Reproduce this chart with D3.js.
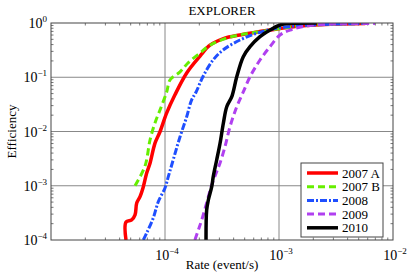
<!DOCTYPE html>
<html>
<head>
<meta charset="utf-8">
<script src="https://cdn.jsdelivr.net/npm/d3@7"></script>
<style>
  body { margin: 0; background: #fff; }
  text { font-family: "Liberation Serif", "DejaVu Serif", serif; fill: #000; }
</style>
</head>
<body>
<div id="chart"></div>
<script>
// series names
const seriesNames = ['2007 A', '2007 B', '2008', '2009', '2010']

// rate (event/s), efficiency pairs per series
const red2007A = [[4.55e-5, 1e-4], [4.55e-5, 2.15e-4], [5.1e-5, 2.34e-4], [5.46e-5, 2.9e-4], [5.65e-5, 4.8e-4],
  [6.04e-5, 6.3e-4], [6.41e-5, 9.1e-4], [6.91e-5, 1.72e-3], [7.39e-5, 2.6e-3], [8.17e-5, 6.1e-3],
  [9.04e-5, 9.9e-3], [1.035e-4, 0.022], [1.22e-4, 0.047], [1.55e-4, 0.12], [2.03e-4, 0.246],
  [2.48e-4, 0.39], [3.3e-4, 0.52], [4.55e-4, 0.6], [8.34e-4, 0.74], [1.53e-3, 0.88], [3.43e-3, 0.96], [5.7e-3, 0.98]]
const green2007B = [[5.46e-5, 1e-3], [6.68e-5, 2.31e-3], [7.39e-5, 6.97e-3], [8.17e-5, 0.0144], [9.04e-5, 0.0249],
  [1.035e-4, 0.0535], [1.106e-4, 0.089], [1.355e-4, 0.126], [1.59e-4, 0.183], [2.03e-4, 0.28],
  [2.48e-4, 0.39], [3.72e-4, 0.55], [8.34e-4, 0.74], [1.53e-3, 0.88], [3.5e-3, 0.96], [6.5e-3, 0.98]]
const blue2008 = [[6.45e-5, 1e-4], [6.91e-5, 1.35e-4], [7.89e-5, 2.55e-4], [8.73e-5, 5.08e-4], [1e-4, 9.1e-4],
  [1.069e-4, 1.47e-3], [1.145e-4, 2.41e-3], [1.355e-4, 8.0e-3], [1.55e-4, 0.0187], [1.71e-4, 0.038],
  [1.87e-4, 0.053], [2.15e-4, 0.102], [2.64e-4, 0.208], [3.23e-4, 0.318], [4.55e-4, 0.486],
  [6.37e-4, 0.646], [9.55e-4, 0.8], [1.87e-3, 0.92], [6.2e-3, 0.98]]
const purple2009 = [[1.83e-4, 1e-4], [1.96e-4, 1.53e-4], [2.1e-4, 2.34e-4], [2.4e-4, 6.28e-4], [2.57e-4, 1.03e-3],
  [2.84e-4, 1.82e-3], [3.04e-4, 2.63e-3], [3.36e-4, 5.25e-3], [3.72e-4, 0.0123], [4.26e-4, 0.0286],
  [4.86e-4, 0.0535], [5.57e-4, 0.102], [6.81e-4, 0.208], [8.34e-4, 0.366], [1.02e-3, 0.6],
  [1.25e-3, 0.74], [1.87e-3, 0.9], [6.95e-3, 0.98]]
const black2010 = [[2.29e-4, 1e-4], [2.32e-4, 3.57e-4], [2.4e-4, 5.46e-4], [2.57e-4, 9.6e-4], [2.65e-4, 1.47e-3],
  [2.84e-4, 2.98e-3], [3.04e-4, 6.06e-3], [3.25e-4, 0.0142], [3.48e-4, 0.0286], [3.87e-4, 0.045],
  [4.26e-4, 0.102], [4.86e-4, 0.239], [5.57e-4, 0.366], [6.81e-4, 0.56], [8.34e-4, 0.74],
  [1.02e-3, 0.92], [1.25e-3, 0.98], [2.15e-3, 1.0]]

const xTicks = [1e-5, 1e-4, 1e-3, 1e-2]
const xTickLabels = ['', '10^-4', '10^-3', '10^-2']
const yTicks = [1e-4, 1e-3, 1e-2, 1e-1, 1e0]

const series = [
  { name: seriesNames[0], data: red2007A, color: '#ff0000', dash: null, w: 3.5 },
  { name: seriesNames[1], data: green2007B, color: '#66ee00', dash: '7,4', w: 3 },
  { name: seriesNames[2], data: blue2008, color: '#1f4fff', dash: '7,2,2,2', w: 3 },
  { name: seriesNames[3], data: purple2009, color: '#b040f0', dash: '7,4', w: 3 },
  { name: seriesNames[4], data: black2010, color: '#000000', dash: null, w: 3.5 }
]

const margin = { top: 23, right: 16, bottom: 33, left: 51 }
const width = 409 - margin.left - margin.right
const height = 273 - margin.top - margin.bottom

const svg = d3.select('#chart')
  .append('svg')
  .attr('width', 409)
  .attr('height', 273)
const g = svg.append('g')
  .attr('transform', 'translate(' + margin.left + ',' + margin.top + ')')

const x = d3.scaleLog().domain([1e-5, 1e-2]).range([0, width])
const y = d3.scaleLog().domain([1e-4, 1]).range([height, 0])

// grid at decades
g.selectAll('.gx').data(xTicks.slice(1, -1)).enter().append('line')
  .attr('x1', d => x(d)).attr('x2', d => x(d)).attr('y1', 0).attr('y2', height)
  .attr('stroke', '#888').attr('stroke-width', 1)
g.selectAll('.gy').data(yTicks.slice(1, -1)).enter().append('line')
  .attr('y1', d => y(d)).attr('y2', d => y(d)).attr('x1', 0).attr('x2', width)
  .attr('stroke', '#888').attr('stroke-width', 1)

// minor ticks, pointing inward on all four sides
function minorVals (scale) {
  const out = []
  const [a, b] = scale.domain()
  for (let e = Math.log10(a); e < Math.log10(b); e++) {
    for (let m = 2; m <= 9; m++) out.push(m * Math.pow(10, e))
  }
  return out
}
const tickG = g.append('g').attr('stroke', '#555').attr('stroke-width', 0.8)
minorVals(x).forEach(v => {
  tickG.append('line').attr('x1', x(v)).attr('x2', x(v)).attr('y1', height).attr('y2', height - 2.5)
  tickG.append('line').attr('x1', x(v)).attr('x2', x(v)).attr('y1', 0).attr('y2', 2.5)
})
minorVals(y).forEach(v => {
  tickG.append('line').attr('y1', y(v)).attr('y2', y(v)).attr('x1', 0).attr('x2', 2.5)
  tickG.append('line').attr('y1', y(v)).attr('y2', y(v)).attr('x1', width).attr('x2', width - 2.5)
})

// curves
g.append('clipPath').attr('id', 'clip').append('rect')
  .attr('width', width).attr('height', height)
const line = d3.line().x(d => x(d[0])).y(d => y(d[1])).curve(d3.curveCatmullRom.alpha(0.5))
g.append('g').attr('clip-path', 'url(#clip)')
  .selectAll('path').data(series).enter().append('path')
  .attr('d', d => line(d.data))
  .attr('fill', 'none')
  .attr('stroke', d => d.color)
  .attr('stroke-width', d => d.w)
  .attr('stroke-dasharray', d => d.dash)
  .attr('stroke-linejoin', 'round')

// frame
g.append('rect').attr('width', width).attr('height', height)
  .attr('fill', 'none').attr('stroke', '#444').attr('stroke-width', 1)

// tick labels 10^n
function expLabel (sel, v) {
  sel.append('tspan').text('10')
  sel.append('tspan').attr('dy', -6).attr('font-size', 9).text(String(Math.round(Math.log10(v))).replace('-', '\u2212'))
}
xTicks.forEach((v, i) => {
  if (!xTickLabels[i]) return
  const t = g.append('text').attr('x', x(v) + 2).attr('y', height + 20)
    .attr('text-anchor', 'middle').attr('font-size', 14)
  expLabel(t, v)
})
yTicks.forEach(v => {
  const t = g.append('text').attr('x', -4).attr('y', y(v) + 5)
    .attr('text-anchor', 'end').attr('font-size', 14)
  expLabel(t, v)
})

// titles
svg.append('text').attr('x', margin.left + width / 2).attr('y', 15)
  .attr('text-anchor', 'middle').attr('font-size', 13).text('EXPLORER')
svg.append('text').attr('x', margin.left + width / 2).attr('y', 269)
  .attr('text-anchor', 'middle').attr('font-size', 13).text('Rate (event/s)')
svg.append('text').attr('transform', 'translate(16,' + (margin.top + height / 2) + ') rotate(-90)')
  .attr('text-anchor', 'middle').attr('font-size', 13).text('Efficiency')

// legend
const legend = svg.append('g').attr('transform', 'translate(301,163)')
legend.append('rect').attr('width', 82).attr('height', 74)
  .attr('fill', '#fff').attr('stroke', '#444').attr('stroke-width', 1)
series.forEach((s, i) => {
  const yy = 10 + i * 13.7
  legend.append('line').attr('x1', 6).attr('x2', 37).attr('y1', yy).attr('y2', yy)
    .attr('stroke', s.color).attr('stroke-width', s.w).attr('stroke-dasharray', s.dash)
  legend.append('text').attr('x', 41).attr('y', yy + 4.5).attr('font-size', 13).text(s.name)
})
</script>
</body>
</html>
